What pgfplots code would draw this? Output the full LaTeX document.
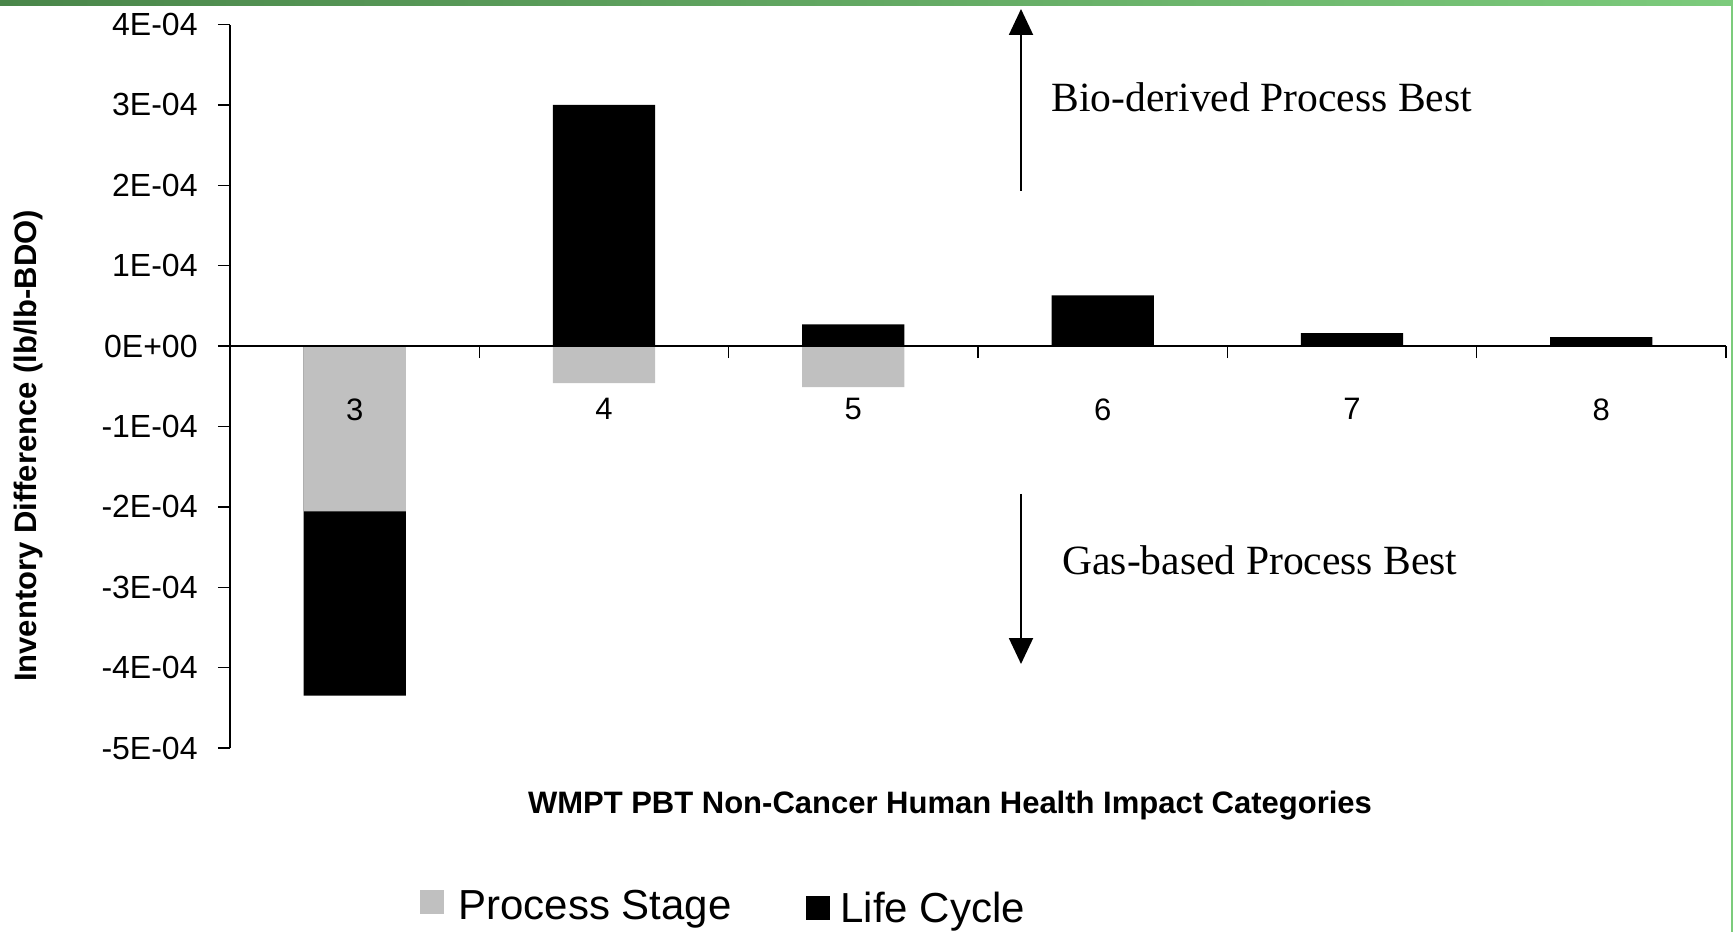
\documentclass[border=0pt]{standalone}
\usepackage{fontspec}
\setmainfont{Liberation Sans}
\newfontfamily\timesf{Liberation Serif}
\usepackage{pgfplots}
\pgfplotsset{compat=1.18}
\usetikzlibrary{arrows.meta}
\definecolor{psgray}{HTML}{C0C0C0}
\definecolor{gdark}{HTML}{4A864A}
\definecolor{glight}{HTML}{7CCB7C}
\begin{document}
\begin{tikzpicture}
\begin{axis}[
  at={(115pt,92pt)}, anchor=south west,
  scale only axis, width=748pt, height=361.75pt,
  xmin=2.5, xmax=8.5, ymin=-5e-4, ymax=4e-4,
  axis y line*=left, axis x line*=middle,
  axis on top,
  tick align=outside,
  axis line style={line width=0.7pt, black},
  every tick/.style={line width=0.7pt, black},
  major tick length=6pt,
  xtick={2.5,3.5,4.5,5.5,6.5,7.5,8.5},
  xticklabels={},
  extra x ticks={3,4,5,6,7,8},
  extra x tick labels={3,4,5,6,7,8},
  extra x tick style={major tick length=0pt, tick style={draw=none},
     xticklabel style={inner sep=0pt, anchor=north, yshift=-26pt, font=\fontsize{15.5}{18}\selectfont}},
  ytick={-5e-4,-4e-4,-3e-4,-2e-4,-1e-4,0,1e-4,2e-4,3e-4,4e-4},
  yticklabels={\mbox{-5E-04},\mbox{-4E-04},\mbox{-3E-04},\mbox{-2E-04},\mbox{-1E-04},\mbox{0E+00},\mbox{1E-04},\mbox{2E-04},\mbox{3E-04},\mbox{4E-04}},
  scaled y ticks=false,
  /pgf/number format/assume math mode=true,
  yticklabel style={inner sep=0pt, anchor=east, xshift=-10pt, font=\fontsize{16}{19}\selectfont},
  clip=false,
]
\addplot[ybar, bar width=0.41, bar shift=0pt, fill=black, draw=none, forget plot]
  coordinates {(3,-4.35e-4) (4,3.0e-4) (5,0.27e-4) (6,0.63e-4) (7,0.16e-4) (8,0.11e-4)};
\addplot[ybar, bar width=0.41, bar shift=0pt, fill=psgray, draw=none, forget plot]
  coordinates {(3,-2.055e-4) (4,-0.46e-4) (5,-0.51e-4)};
\end{axis}
% axis titles
\node[font=\bfseries\fontsize{15.5}{18}\selectfont] at (475pt,63.3pt) {WMPT PBT Non-Cancer Human Health Impact Categories};
\node[font=\bfseries\fontsize{15.5}{18}\selectfont, rotate=90] at (14pt,243pt) {Inventory Difference (lb/lb-BDO)};
% annotations
\draw[line width=1pt, -{Triangle[width=12pt,length=13pt]}] (510.5pt,370.5pt) -- (510.5pt,461.5pt);
\draw[line width=1pt, -{Triangle[width=12pt,length=13pt]}] (510.5pt,219pt) -- (510.5pt,134pt);
\node[anchor=west, inner sep=0pt, font=\timesf\fontsize{20.8}{25}\selectfont] at (525.5pt,417.5pt) {Bio-derived Process Best};
\node[anchor=west, inner sep=0pt, font=\timesf\fontsize{20.8}{25}\selectfont] at (531pt,186pt) {Gas-based Process Best};
% legend
\fill[psgray] (210pt,9pt) rectangle (222pt,21pt);
\node[anchor=base west, inner sep=0pt, font=\fontsize{21}{25}\selectfont] at (229pt,6.5pt) {Process Stage};
\fill[black] (403pt,6pt) rectangle (415pt,18pt);
\node[anchor=base west, inner sep=0pt, font=\fontsize{21}{25}\selectfont] at (420pt,5pt) {Life Cycle};
% slide border
\shade[left color=gdark, right color=glight] (0pt,463.3pt) rectangle (866.5pt,466pt);
\fill[glight] (865.3pt,0pt) rectangle (866.5pt,466pt);
\pgfresetboundingbox
\path[use as bounding box] (0pt,0pt) rectangle (866.5pt,466pt);
\end{tikzpicture}
\end{document}
